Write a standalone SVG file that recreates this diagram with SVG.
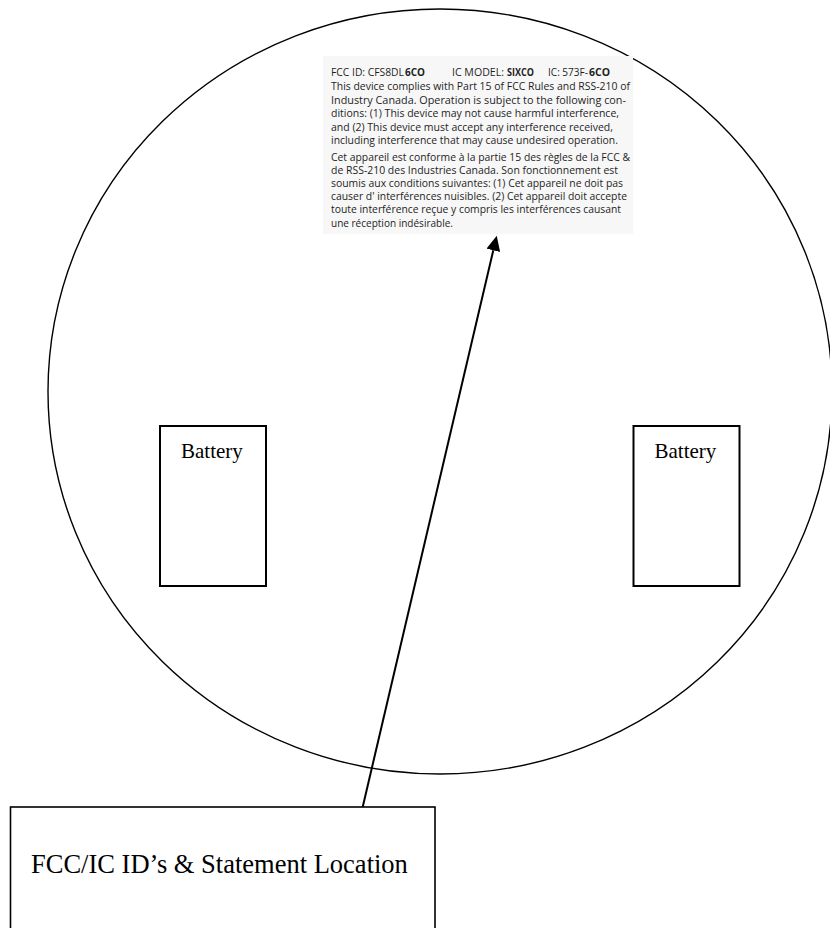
<svg xmlns="http://www.w3.org/2000/svg" width="830" height="928" viewBox="0 0 830 928">
<style>
.shape{fill:none;stroke:#000}
.lbl{font-family:"Liberation Serif","Times New Roman",serif;fill:#000}
.fcc{font-family:"Open Sans","Noto Sans","Liberation Sans",sans-serif;font-size:10.5px;fill:#1e1e1e}
.b{font-weight:bold}
</style>
<defs>
<marker id="head" viewBox="0 0 15 14" markerWidth="15" markerHeight="14" refX="0" refY="7" orient="auto" markerUnits="userSpaceOnUse">
<path d="M0,0 L15,7 L0,14 z" fill="#000"/>
</marker>
</defs>
<rect width="830" height="928" fill="#fff"/>
<g id="device">
<ellipse class="shape" cx="440" cy="391.5" rx="392" ry="382.5" stroke-width="1.4"/>
</g>
<g id="label">
<rect x="323" y="56" width="310" height="178" fill="#f7f7f7"/>
<text class="fcc" x="331" y="75.5" textLength="73" lengthAdjust="spacingAndGlyphs">FCC ID: CFS8DL</text>
<text class="fcc b" x="405" y="75.5" textLength="20" lengthAdjust="spacingAndGlyphs">6CO</text>
<text class="fcc" x="452" y="75.5" textLength="52" lengthAdjust="spacingAndGlyphs">IC MODEL:</text>
<text class="fcc b" x="507" y="75.5" textLength="27" lengthAdjust="spacingAndGlyphs">SIXCO</text>
<text class="fcc" x="548" y="75.5" textLength="40" lengthAdjust="spacingAndGlyphs">IC: 573F-</text>
<text class="fcc b" x="589" y="75.5" textLength="21" lengthAdjust="spacingAndGlyphs">6CO</text>
<text class="fcc" x="331" y="89.5" textLength="299" lengthAdjust="spacingAndGlyphs">This device complies with Part 15 of FCC Rules and RSS-210 of</text>
<text class="fcc" x="331" y="103.5" textLength="295" lengthAdjust="spacingAndGlyphs">Industry Canada. Operation is subject to the following con-</text>
<text class="fcc" x="331" y="117" textLength="288" lengthAdjust="spacingAndGlyphs">ditions: (1) This device may not cause harmful interference,</text>
<text class="fcc" x="331" y="130.5" textLength="282" lengthAdjust="spacingAndGlyphs">and (2) This device must accept any interference received,</text>
<text class="fcc" x="331" y="144" textLength="287" lengthAdjust="spacingAndGlyphs">including interference that may cause undesired operation.</text>
<text class="fcc" x="331" y="160.5" textLength="299" lengthAdjust="spacingAndGlyphs">Cet appareil est conforme à la partie 15 des règles de la FCC &amp;</text>
<text class="fcc" x="331" y="173.5" textLength="287" lengthAdjust="spacingAndGlyphs">de RSS-210 des Industries Canada. Son fonctionnement est</text>
<text class="fcc" x="331" y="186.5" textLength="292" lengthAdjust="spacingAndGlyphs">soumis aux conditions suivantes: (1) Cet appareil ne doit pas</text>
<text class="fcc" x="331" y="199.5" textLength="296" lengthAdjust="spacingAndGlyphs">causer d' interférences nuisibles. (2) Cet appareil doit accepte</text>
<text class="fcc" x="331" y="213" textLength="290" lengthAdjust="spacingAndGlyphs">toute interférence reçue y compris les interférences causant</text>
<text class="fcc" x="331" y="226.5" textLength="122" lengthAdjust="spacingAndGlyphs">une réception indésirable.</text>
</g>
<g id="battery-left">
<rect class="shape" x="160" y="426" width="106" height="160" stroke-width="2"/>
<text class="lbl" x="181" y="458.3" font-size="21">Battery</text>
</g>
<g id="battery-right">
<rect class="shape" x="633.5" y="426" width="106" height="160" stroke-width="2"/>
<text class="lbl" x="654.5" y="458.3" font-size="21">Battery</text>
</g>
<g id="callout">
<rect class="shape" x="10.5" y="807" width="424.5" height="140" stroke-width="1.6"/>
<text class="lbl" x="31" y="872.5" font-size="26.5">FCC/IC ID’s &amp; Statement Location</text>
</g>
<g id="connectors">
<line x1="362.7" y1="807" x2="493.3" y2="250.3" stroke="#000" stroke-width="2" marker-end="url(#head)"/>
</g>
</svg>
